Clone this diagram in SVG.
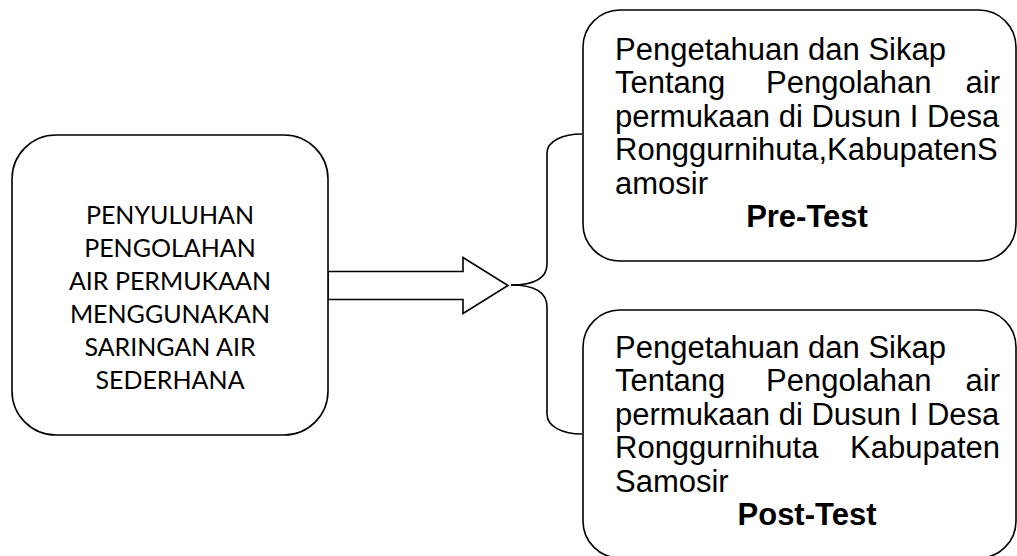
<svg xmlns="http://www.w3.org/2000/svg" width="1017" height="556" viewBox="0 0 1017 556">
<style>
.box{fill:#fff;stroke:#000;stroke-width:1.6}
.conn{fill:#fff;stroke:#000;stroke-width:1.6;stroke-linejoin:miter}
.brace{fill:none;stroke:#000;stroke-width:1.6}
.cal{font-family:Lato,"Open Sans","Liberation Sans",sans-serif;font-size:25px;fill:#000;text-anchor:middle}
.ar{font-family:"Liberation Sans",Arial,sans-serif;font-size:31px;fill:#000}
.b{font-weight:bold;text-anchor:middle}
.r{text-anchor:end}
</style>
<rect width="1017" height="556" fill="#fff"/>
<g id="connectors">
<polygon class="conn" points="328,271.5 463,271.5 463,257.5 508,285.5 463,313.5 463,299.5 328,299.5"/>
<path class="brace" d="M511,285 C530,285 547,281 547,264 L547,153 C547,141 563,134 582,134"/>
<path class="brace" d="M511,285 C530,285 547,290 547,307 L547,414 C547,427 563,434 582,434"/>
</g>
<g id="node-penyuluhan">
<rect class="box" x="12" y="135" width="316" height="300" rx="44" ry="44"/>
<text class="cal" x="170" y="224">PENYULUHAN</text>
<text class="cal" x="170" y="257">PENGOLAHAN</text>
<text class="cal" x="170" y="290">AIR PERMUKAAN</text>
<text class="cal" x="170" y="323">MENGGUNAKAN</text>
<text class="cal" x="170" y="356">SARINGAN AIR</text>
<text class="cal" x="170" y="389">SEDERHANA</text>
</g>
<g id="node-pretest">
<rect class="box" x="583" y="10" width="433" height="251" rx="37" ry="37"/>
<text class="ar" x="615" y="60">Pengetahuan dan Sikap</text>
<text class="ar" x="615" y="93.4">Tentang</text>
<text class="ar" x="766" y="93.4">Pengolahan</text>
<text class="ar r" x="1000" y="93.4">air</text>
<text class="ar" x="615" y="126.8">permukaan di Dusun I Desa</text>
<text class="ar" x="615" y="160.2">Ronggurnihuta,KabupatenS</text>
<text class="ar" x="615" y="193.6">amosir</text>
<text class="ar b" x="807" y="227">Pre-Test</text>
</g>
<g id="node-posttest">
<rect class="box" x="583" y="310" width="433" height="248" rx="37" ry="37"/>
<text class="ar" x="615" y="358">Pengetahuan dan Sikap</text>
<text class="ar" x="615" y="391.4">Tentang</text>
<text class="ar" x="766" y="391.4">Pengolahan</text>
<text class="ar r" x="1000" y="391.4">air</text>
<text class="ar" x="615" y="424.8">permukaan di Dusun I Desa</text>
<text class="ar" x="615" y="458.2">Ronggurnihuta</text>
<text class="ar r" x="1000" y="458.2">Kabupaten</text>
<text class="ar" x="615" y="491.6">Samosir</text>
<text class="ar b" x="807" y="525">Post-Test</text>
</g>
</svg>
